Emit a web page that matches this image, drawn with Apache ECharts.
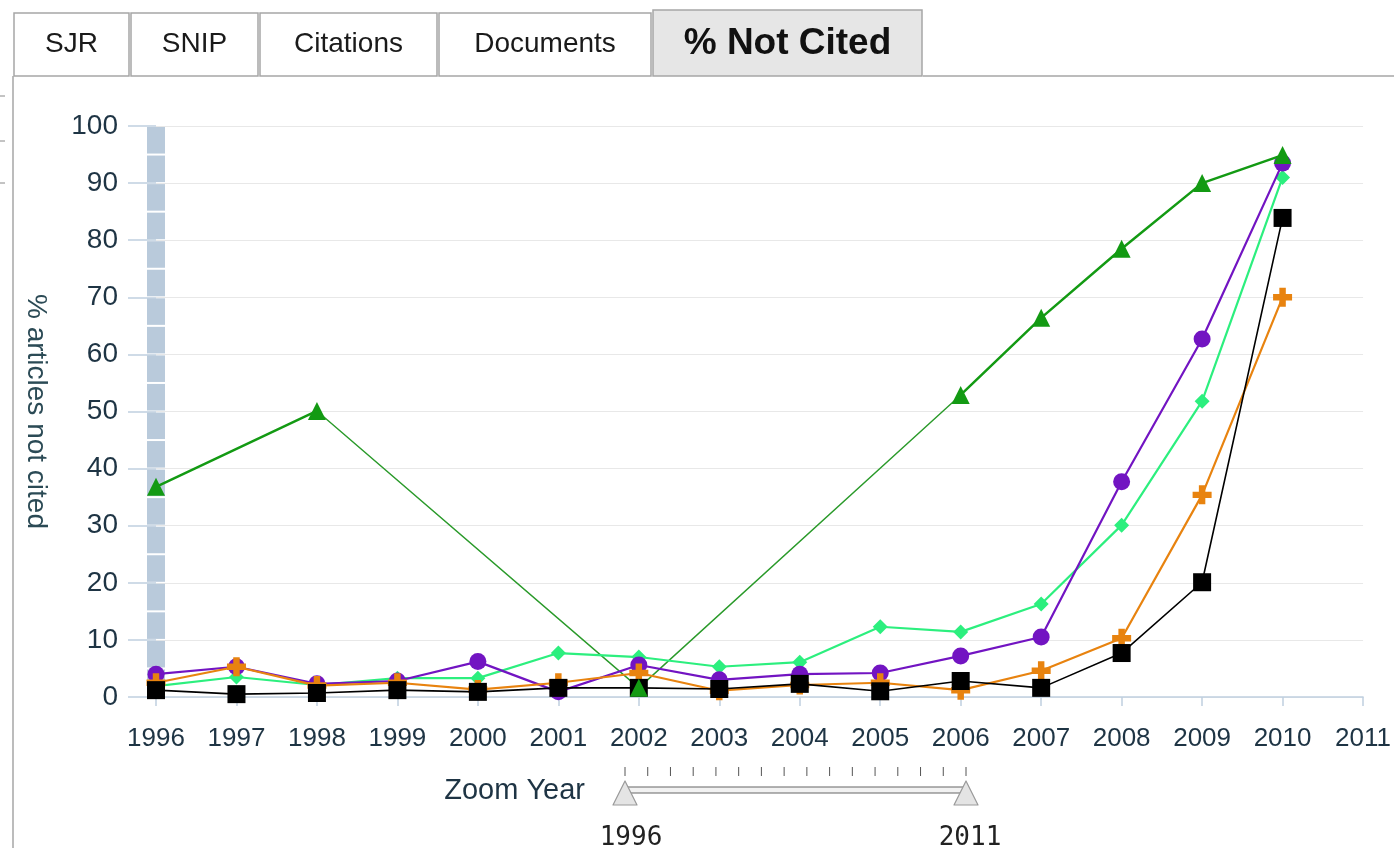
<!DOCTYPE html>
<html>
<head>
<meta charset="utf-8">
<script src="https://cdn.jsdelivr.net/npm/echarts@6/dist/echarts.min.js"></script>
<style>
html, body { margin: 0; padding: 0; background: #fff; }
#main { width: 1394px; height: 848px; }
</style>
</head>
<body>
<div id="main"></div>
<script>
// 数据
var years = [1996, 1997, 1998, 1999, 2000, 2001, 2002, 2003, 2004, 2005, 2006, 2007, 2008, 2009, 2010];
var greenTri = [36.8, null, 50.1, null, null, null, 1.6, null, null, null, 52.9, 66.4, 78.5, 90.0, 94.9];
var purpleDot = [4.0, 5.3, 2.3, 2.8, 6.2, 0.9, 5.6, 3.0, 4.0, 4.2, 7.2, 10.5, 37.7, 62.7, 93.5];
var springDia = [1.9, 3.5, 2.1, 3.3, 3.3, 7.7, 7.0, 5.3, 6.1, 12.3, 11.4, 16.3, 30.1, 51.8, 91.0];
var orangeCross = [2.5, 5.3, 2.0, 2.5, 1.3, 2.5, 4.2, 1.1, 2.1, 2.5, 1.2, 4.6, 10.3, 35.4, 70.0];
var blackSq = [1.2, 0.5, 0.7, 1.2, 0.9, 1.6, 1.6, 1.4, 2.3, 1.0, 2.8, 1.6, 7.7, 20.1, 83.9];
var greenThinFrom = 1998, greenThinTo = 2006; // 这段绿线较细
var tabs = ['SJR', 'SNIP', 'Citations', 'Documents', '% Not Cited'];
var sliderYears = [1996, 2011];
var bandYear = 1996, bandTop = 100, bandStep = 5;

var font = "'Liberation Sans', Arial, sans-serif";
var txtColor = '#1e3444';

function pairs(vals) {
	return years.map(function (y, i) { return [y, vals[i]]; }).filter(function (p) { return p[1] != null; });
}

// 绿色三角：粗线段 + 细连接线
var greenPts = pairs(greenTri);
var greenThick = [];
greenPts.forEach(function (p, i) {
	var prev = greenPts[i - 1];
	if (prev && prev[0] >= greenThinFrom && p[0] <= greenThinTo) {
		greenThick.push([(prev[0] + p[0]) / 2, '-']);
	}
	greenThick.push(p);
});
var greenThin = greenPts.filter(function (p) { return p[0] >= greenThinFrom && p[0] <= greenThinTo; });

function lineSeries(name, data, color, symbol, size, width, z) {
	return {
		name: name,
		type: 'line',
		data: data,
		symbol: symbol,
		symbolSize: size,
		showSymbol: true,
		showAllSymbol: true,
		z: z,
		lineStyle: { color: color, width: width },
		itemStyle: { color: color, borderWidth: 0 },
		emphasis: { disabled: true },
		animation: false
	};
}

var crossPath = 'path://M3.3,0H6.7V3.3H10V6.7H6.7V10H3.3V6.7H0V3.3H3.3Z';

// 选项卡
var tabX = [13, 130, 259, 438, 652, 923];
var tabGraphics = [];
tabs.forEach(function (t, i) {
	var active = i === tabs.length - 1;
	var top = active ? 10 : 13;
	tabGraphics.push({
		type: 'rect',
		shape: { x: tabX[i] + 1, y: top, width: tabX[i + 1] - tabX[i] - 2, height: 76 - top },
		style: { fill: active ? '#e6e6e6' : '#fff', stroke: '#a6a6a6', lineWidth: 1.5 },
		z: 10
	});
	tabGraphics.push({
		type: 'text',
		x: (tabX[i] + tabX[i + 1]) / 2,
		y: 44,
		style: {
			text: t,
			font: (active ? 'bold 37px ' : '28px ') + font,
			fill: active ? '#111' : '#1a1a1a',
			align: 'center',
			verticalAlign: 'middle'
		},
		z: 11
	});
});

// 缩放滑块
var slX0 = 625, slX1 = 966;
var sliderGraphics = [];
for (var k = 0; k <= sliderYears[1] - sliderYears[0]; k++) {
	var tx = slX0 + (slX1 - slX0) * k / (sliderYears[1] - sliderYears[0]);
	sliderGraphics.push({ type: 'line', shape: { x1: tx, y1: 767, x2: tx, y2: 776 }, style: { stroke: '#555', lineWidth: 1 } });
}
sliderGraphics.push(
	{ type: 'rect', shape: { x: slX0, y: 787, width: slX1 - slX0, height: 6 }, style: { fill: '#f2f2f2', stroke: '#666', lineWidth: 1.2 } },
	{ type: 'polygon', shape: { points: [[slX0, 781], [slX0 - 12, 805], [slX0 + 12, 805]] }, style: { fill: '#e4e4e4', stroke: '#9a9a9a', lineWidth: 1.2, lineJoin: 'round' }, z: 5 },
	{ type: 'polygon', shape: { points: [[slX1, 781], [slX1 - 12, 805], [slX1 + 12, 805]] }, style: { fill: '#e4e4e4', stroke: '#9a9a9a', lineWidth: 1.2, lineJoin: 'round' }, z: 5 },
	{ type: 'text', x: 585, y: 791, style: { text: 'Zoom Year', font: '29px ' + font, fill: txtColor, align: 'right', verticalAlign: 'middle' } },
	{ type: 'text', x: slX0 + 6, y: 838, style: { text: String(sliderYears[0]), font: '26px "DejaVu Sans Mono", monospace', fill: '#222', align: 'center', verticalAlign: 'middle' } },
	{ type: 'text', x: slX1 + 4, y: 838, style: { text: String(sliderYears[1]), font: '26px "DejaVu Sans Mono", monospace', fill: '#222', align: 'center', verticalAlign: 'middle' } }
);

// 边框
var frameGraphics = [
	{ type: 'line', shape: { x1: 13, y1: 76, x2: 13, y2: 848 }, style: { stroke: '#a6a6a6', lineWidth: 1.5 } },
	{ type: 'line', shape: { x1: 923, y1: 76, x2: 1394, y2: 76 }, style: { stroke: '#a6a6a6', lineWidth: 1.5 } },
	{ type: 'line', shape: { x1: 0, y1: 96, x2: 5, y2: 96 }, style: { stroke: '#888', lineWidth: 1 } },
	{ type: 'line', shape: { x1: 0, y1: 141, x2: 5, y2: 141 }, style: { stroke: '#888', lineWidth: 1 } },
	{ type: 'line', shape: { x1: 0, y1: 183, x2: 5, y2: 183 }, style: { stroke: '#888', lineWidth: 1 } }
];

var myChart = echarts.init(document.getElementById('main'));
var option = {
	backgroundColor: '#fff',
	animation: false,
	textStyle: { fontFamily: font },
	grid: { left: 156, right: 28, top: 126, bottom: 151, containLabel: false },
	xAxis: {
		type: 'value',
		min: 1996,
		max: 2011,
		interval: 1,
		axisLine: { show: true, lineStyle: { color: '#c0d0e0', width: 1.5 } },
		axisTick: { show: true, length: 9, lineStyle: { color: '#c0d0e0', width: 1.5 } },
		axisLabel: { fontSize: 26, color: txtColor, margin: 29, formatter: function (v) { return String(v); }, showMinLabel: true, showMaxLabel: true },
		splitLine: { show: false }
	},
	yAxis: {
		type: 'value',
		min: 0,
		max: 100,
		interval: 10,
		name: '% articles not cited',
		nameLocation: 'middle',
		nameRotate: -90,
		nameGap: 106,
		nameTextStyle: { fontSize: 28, color: '#2b4a55' },
		axisLine: { show: false },
		axisTick: { show: true, length: 28, lineStyle: { color: '#c0d0e0', width: 1.5 } },
		axisLabel: { fontSize: 28, color: txtColor, margin: 38 },
		splitLine: { show: true, lineStyle: { color: '#e8e8e8', width: 1.2 } }
	},
	graphic: frameGraphics.concat(tabGraphics, sliderGraphics),
	series: [
		{
			// 1996 处的灰蓝色分段竖条
			type: 'custom',
			z: 1,
			clip: false,
			silent: true,
			data: [[bandYear, bandTop]],
			renderItem: function (params, api) {
				var children = [];
				for (var v = 0; v < api.value(1); v += bandStep) {
					var p0 = api.coord([api.value(0), v]);
					var p1 = api.coord([api.value(0), v + bandStep]);
					children.push({
						type: 'rect',
						shape: { x: p0[0] - 9, y: p1[1] + 1, width: 18, height: p0[1] - p1[1] - 2 },
						style: { fill: '#b9cadb' }
					});
				}
				return { type: 'group', children: children };
			}
		},
		lineSeries('thin', greenThin, '#2a9a2a', 'none', 0, 1.4, 2),
		lineSeries('spring', pairs(springDia), '#2cef7e', 'diamond', 15, 2.2, 3),
		lineSeries('purple', pairs(purpleDot), '#7214c2', 'circle', 17, 2.2, 4),
		lineSeries('orange', pairs(orangeCross), '#e8830f', crossPath, 19, 2.2, 5),
		lineSeries('black', pairs(blackSq), '#000', 'rect', 18, 1.6, 6),
		lineSeries('green', greenThick, '#139a13', 'triangle', 18, 2.5, 7)
	]
};
myChart.setOption(option);
</script>
</body>
</html>
